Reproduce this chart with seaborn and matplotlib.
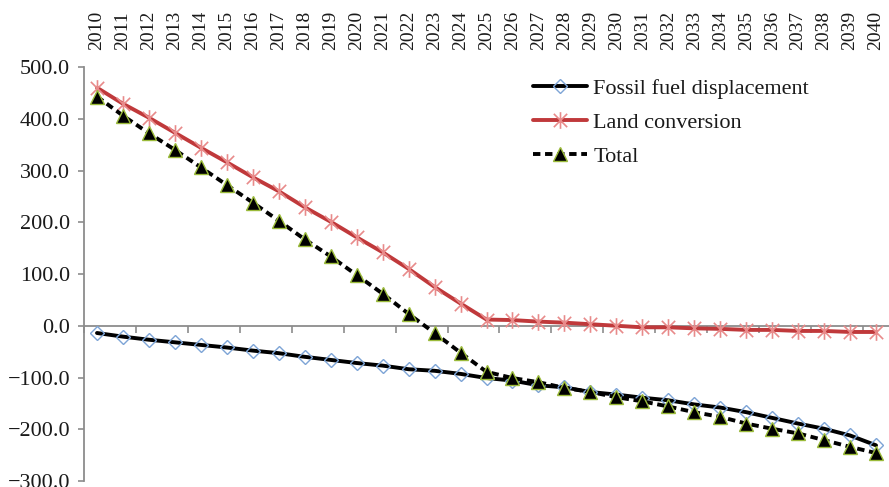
import numpy as np
import pandas as pd
import matplotlib
matplotlib.use("Agg")
import matplotlib.pyplot as plt
from matplotlib.path import Path
from matplotlib.ticker import FixedLocator, FuncFormatter
import seaborn as sns

# ---- data -------------------------------------------------------------
years = list(range(2010, 2041))

fossil_fuel_displacement = [
    -14, -21, -27, -32, -37, -42, -48, -53, -60, -66,
    -72, -77, -84, -87, -93, -101, -106, -115, -119, -128,
    -133, -139, -144, -152, -158, -167, -178, -189, -199, -212, -231,
]
land_conversion = [
    460, 429, 402, 373, 344, 316, 287, 260, 229, 201,
    171, 142, 110, 75, 43, 12, 11, 8, 6, 3,
    0, -3, -3, -5, -6, -8, -8, -10, -10, -12, -12,
]
total = [
    443, 406, 372, 340, 306, 272, 238, 203, 167, 134,
    98, 62, 23, -14, -52, -89, -101, -109, -120, -128,
    -138, -146, -156, -167, -176, -189, -199, -208, -221, -234, -246,
]

series_names = ["Fossil fuel displacement", "Land conversion", "Total"]
y_ticks = [500, 400, 300, 200, 100, 0, -100, -200, -300]

# ---- style ------------------------------------------------------------
sns.set_style("white")
plt.rcParams["font.family"] = ["Liberation Serif", "DejaVu Serif"]
plt.rcParams["axes.unicode_minus"] = True

AXIS_GREY = "#8c8c8c"
TEXT = "#1a1a1a"

# Excel-like star marker: an X with a vertical stroke through it
star_path = Path(
    [(-0.8, -0.8), (0.8, 0.8), (-0.8, 0.8), (0.8, -0.8), (0, -1.0), (0, 1.0)],
    [Path.MOVETO, Path.LINETO, Path.MOVETO, Path.LINETO, Path.MOVETO, Path.LINETO],
)

idx = np.arange(len(years))
df = pd.DataFrame({
    "idx": idx,
    series_names[0]: fossil_fuel_displacement,
    series_names[1]: land_conversion,
    series_names[2]: total,
})

fig = plt.figure(figsize=(8.89, 4.87), dpi=100)
ax = fig.add_axes([0.0945, 0.0123, 0.9055, 0.8501])

LW = 2.8

sns.lineplot(
    data=df, x="idx", y=series_names[0], ax=ax, label=series_names[0],
    color="black", linewidth=LW, marker="D", markersize=7.5,
    markerfacecolor="none", markeredgecolor="#7da4d6", markeredgewidth=1.0,
    zorder=3,
)
sns.lineplot(
    data=df, x="idx", y=series_names[1], ax=ax, label=series_names[1],
    color="#c0393b", linewidth=LW, marker=star_path, markersize=12,
    markeredgecolor="#e88a8a", markeredgewidth=1.2,
    zorder=4,
)
sns.lineplot(
    data=df, x="idx", y=series_names[2], ax=ax, label=series_names[2],
    color="black", linewidth=LW, linestyle=(0, (1.9, 1.2)), marker="^",
    markersize=9.5, markerfacecolor="black", markeredgecolor="#9bbb3a",
    markeredgewidth=1.0, zorder=5,
)

# ---- axes -------------------------------------------------------------
ax.set_xlim(-0.5, len(years) - 0.5)
ax.set_ylim(-300, 500)
ax.set_xlabel("")
ax.set_ylabel("")

for side in ("top", "right"):
    ax.spines[side].set_visible(False)
ax.spines["left"].set_color(AXIS_GREY)
ax.spines["left"].set_linewidth(1.3)
ax.spines["bottom"].set_position(("data", 0))
ax.spines["bottom"].set_color(AXIS_GREY)
ax.spines["bottom"].set_linewidth(1.3)

ax.yaxis.set_major_locator(FixedLocator(y_ticks))
ax.yaxis.set_major_formatter(
    FuncFormatter(lambda v, p: f"{v:.1f}".replace("-", "\u2212"))
)
ax.tick_params(axis="y", which="major", direction="out", length=4, width=1.2,
               color=AXIS_GREY, left=True, labelsize=16, labelcolor=TEXT, pad=6)

# category-boundary ticks on the zero line, every second category
ax.xaxis.set_major_locator(FixedLocator(np.arange(-0.5, len(years), 2)))
ax.tick_params(axis="x", which="major", direction="out", length=5, width=1.2,
               color=AXIS_GREY, bottom=True, labelbottom=False)

# year labels along the top
top = ax.secondary_xaxis("top")
top.xaxis.set_major_locator(FixedLocator(idx))
top.set_xticklabels([str(y) for y in years], rotation=90)
top.tick_params(axis="x", length=0, pad=12, labelsize=14, labelcolor=TEXT)
top.spines["top"].set_visible(False)

leg = ax.legend(
    loc="upper left", bbox_to_anchor=(0.541, 1.005), frameon=False,
    fontsize=16, handlelength=2.45, handletextpad=0.27, labelspacing=0.6,
    borderaxespad=0.2,
)
for t in leg.get_texts():
    t.set_color(TEXT)

fig.savefig("out.png", dpi=100)
